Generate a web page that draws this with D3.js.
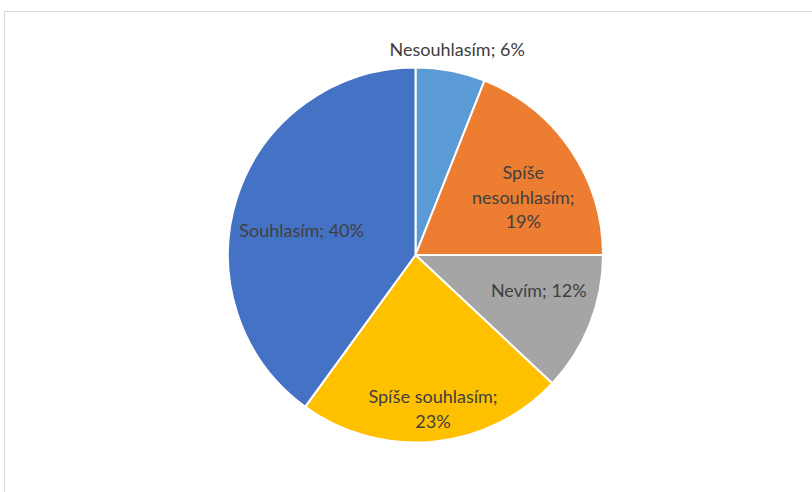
<!DOCTYPE html>
<html>
<head>
<meta charset="utf-8">
<script src="https://cdn.jsdelivr.net/npm/d3@7"></script>
<style>
  html, body { margin: 0; padding: 0; background: #fff; }
  svg { display: block; }
</style>
</head>
<body>
<svg id="chart" width="812" height="492"></svg>
<script>
// Data
const categories = ["Nesouhlasím", "Spíše nesouhlasím", "Nevím", "Spíše souhlasím", "Souhlasím"];
const values = [6, 19, 12, 23, 40];
const colors = ["#5B9BD5", "#ED7D31", "#A5A5A5", "#FFC000", "#4472C4"];
// label line breaks as shown in the chart
const labelLines = [
  ["Nesouhlasím; 6%"],
  ["Spíše", "nesouhlasím;", "19%"],
  ["Nevím; 12%"],
  ["Spíše souhlasím;", "23%"],
  ["Souhlasím; 40%"]
];

const svg = d3.select("#chart");
const W = 812, H = 492;

// chart frame
svg.append("rect")
  .attr("x", 4.5).attr("y", 11.5)
  .attr("width", W + 10).attr("height", H + 10)
  .attr("fill", "#fff")
  .attr("stroke", "#d9d9d9").attr("stroke-width", 1);

const cx = 415.5, cy = 255, R = 187.5;

const pie = d3.pie().sort(null).value(d => d)(values);
const arc = d3.arc().innerRadius(0).outerRadius(R);
const labelArc = d3.arc().innerRadius(R * 0.65).outerRadius(R * 0.65);
const outArc = d3.arc().innerRadius(R * 1.1).outerRadius(R * 1.1);

const g = svg.append("g").attr("transform", `translate(${cx},${cy})`);

g.selectAll("path.slice")
  .data(pie)
  .join("path")
  .attr("class", "slice")
  .attr("d", arc)
  .attr("fill", (d, i) => colors[i])
  .attr("stroke", "#fff")
  .attr("stroke-width", 2)
  .attr("stroke-linejoin", "round");

// label placement tweaks (best-fit style as in the original)
const nudges = [[0, 0], [7, 11], [10, -9], [6, 33], [2, 13]];
const outsideNudge = [3, -3];
const lineH = 24.5;
const fontSize = 18;

g.selectAll("text.lbl")
  .data(pie)
  .join("text")
  .attr("class", "lbl")
  .attr("text-anchor", "middle")
  .attr("font-family", "Lato, 'Open Sans', sans-serif")
  .attr("font-size", fontSize)
  .attr("fill", "#404040")
  .each(function(d, i) {
    let p;
    if (i === 0) {
      // small slice: label outside, above the pie
      const c = outArc.centroid(d);
      p = [c[0] + outsideNudge[0], c[1] + outsideNudge[1]];
    } else {
      const c = labelArc.centroid(d);
      p = [c[0] + nudges[i][0], c[1] + nudges[i][1]];
    }
    const lines = labelLines[i];
    const n = lines.length;
    const t = d3.select(this);
    lines.forEach((ln, k) => {
      t.append("tspan")
        .attr("x", p[0])
        .attr("y", p[1] + (k - (n - 1) / 2) * lineH)
        .attr("dy", "0.35em")
        .text(ln);
    });
  });
</script>
</body>
</html>
